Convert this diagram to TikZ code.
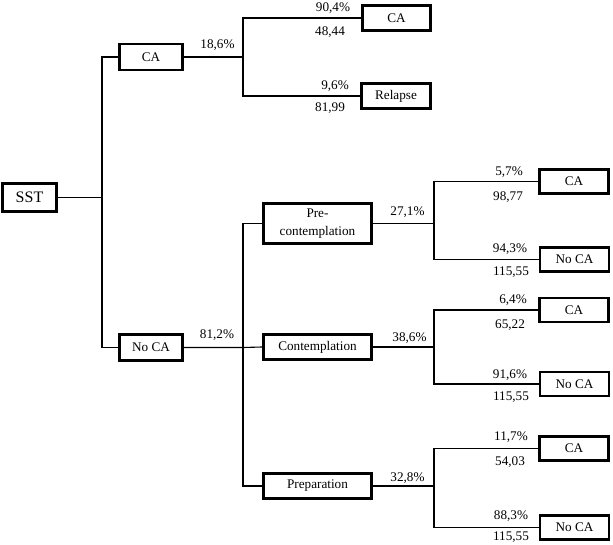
\documentclass[tikz,border=0pt]{standalone}
\usepackage{fontspec}
\setmainfont{Liberation Serif}
\begin{document}
\begin{tikzpicture}[x=1pt,y=-1pt,
  every node/.style={font=\fontsize{13.2}{17.5}\selectfont},
  box/.style={draw, line width=2.7pt, inner sep=0pt, align=center},
  leafbox/.style={box, minimum width=69pt, minimum height=24pt},
  midbox/.style={box, minimum width=108pt, minimum height=25pt},
  conn/.style={line width=1.1pt},
  lbl/.style={inner sep=0pt, anchor=center}]
\useasboundingbox (0,0) rectangle (613,545);
% boxes
\node[box, minimum width=54pt, minimum height=28pt, font=\fontsize{16}{19}\selectfont] (SST) at (29.5,197.5) {SST};
\node[box, minimum width=63pt, minimum height=26pt] (CA1) at (151,57) {CA};
\node[box, minimum width=63pt, minimum height=26pt] (NoCA1) at (151,347.5) {No CA};
\node[box, minimum width=68pt, minimum height=25pt] (CAa) at (396.5,18) {CA};
\node[box, minimum width=69pt, minimum height=25pt] (Rel) at (396,96) {Relapse};
\node[midbox, minimum height=40pt] (Pre) at (317.5,223.5) {Pre-\\contemplation};
\node[midbox] (Cont) at (317.5,347) {Contemplation};
\node[midbox] (Prep) at (317.5,486) {Preparation};
\node[leafbox] (CAp) at (574,181.5) {CA};
\node[leafbox] (NoCAp) at (574.5,259.5) {No CA};
\node[leafbox] (CAc) at (574,310) {CA};
\node[leafbox] (NoCAc) at (574.5,384) {No CA};
\node[leafbox] (CAr) at (574,448.5) {CA};
\node[leafbox] (NoCAr) at (574.5,527.5) {No CA};
% junctions
\coordinate (j0) at (102,197.5);
\coordinate (j1) at (243,57);
\coordinate (j2) at (243,347.5);
\coordinate (j3) at (434,223.5);
\coordinate (j4) at (434,347);
\coordinate (j5) at (434,486);
% connectors
\draw[conn] (SST.east) -- (j0);
\draw[conn] (CA1.west) -| (j0) |- (NoCA1.west);
\draw[conn] (CA1.east) -- (j1);
\draw[conn] (CAa.west) -| (j1) |- (Rel.west);
\draw[conn] (NoCA1.east) -- (j2) -- (Cont.west);
\draw[conn] (Pre.west) -| (j2) |- (Prep.west);
\draw[conn] (Pre.east) -- (j3);
\draw[conn] (CAp.west) -| (j3) |- (NoCAp.west);
\draw[conn] (Cont.east) -- (j4);
\draw[conn] (CAc.west) -| (j4) |- (NoCAc.west);
\draw[conn] (Prep.east) -- (j5);
\draw[conn] (CAr.west) -| (j5) |- (NoCAr.west);
% branch labels
\node[lbl] (l1) at (217.5,45) {18,6\%};
\node[lbl] (l2) at (217,335) {81,2\%};
\node[lbl] (l3) at (407.5,212) {27,1\%};
\node[lbl] (l4) at (409.5,338) {38,6\%};
\node[lbl] (l5) at (407.5,478) {32,8\%};
% leaf labels
\node[lbl] (p1) at (333,8) {90,4\%};
\node[lbl] (v1) at (330,32) {48,44};
\node[lbl] (p2) at (335,86) {9,6\%};
\node[lbl] (v2) at (330,108) {81,99};
\node[lbl] (p3) at (509,172) {5,7\%};
\node[lbl] (v3) at (508,197) {98,77};
\node[lbl] (p4) at (510,249) {94,3\%};
\node[lbl] (v4) at (511,272) {115,55};
\node[lbl] (p5) at (513,300) {6,4\%};
\node[lbl] (v5) at (510,325) {65,22};
\node[lbl] (p6) at (510,375) {91,6\%};
\node[lbl] (v6) at (511,397) {115,55};
\node[lbl] (p7) at (511,437) {11,7\%};
\node[lbl] (v7) at (510,462) {54,03};
\node[lbl] (p8) at (511,516) {88,3\%};
\node[lbl] (v8) at (511,537) {115,55};
\end{tikzpicture}
\end{document}
